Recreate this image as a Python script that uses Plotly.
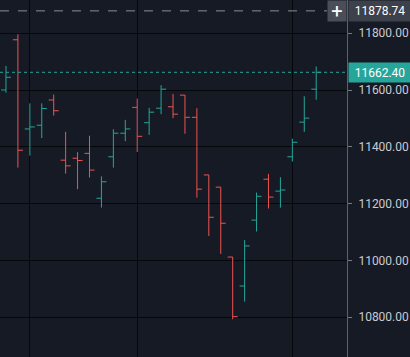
import plotly.graph_objects as go

# ---- data ----
bar_index = list(range(27))
opens  = [11600, 11777, 11463, 11476, 11565, 11353, 11360, 11377, 11219, 11365,
          11448, 11539, 11485, 11536, 11541, 11582, 11504, 11301, 11258, 11012,
          10910, 11142, 11286, 11244, 11365, 11487, 11603]
highs  = [11685, 11796, 11553, 11553, 11584, 11453, 11381, 11439, 11296, 11462,
          11495, 11570, 11537, 11617, 11586, 11582, 11536, 11301, 11258, 11012,
          11072, 11239, 11305, 11293, 11429, 11578, 11683]
lows   = [11591, 11327, 11369, 11431, 11510, 11306, 11251, 11292, 11186, 11327,
          11420, 11382, 11442, 11515, 11501, 11446, 11221, 11086, 11023, 10793,
          10855, 11102, 11183, 11186, 11348, 11453, 11566]
closes = [11645, 11388, 11470, 11535, 11527, 11333, 11352, 11318, 11277, 11448,
          11463, 11437, 11522, 11603, 11515, 11504, 11251, 11152, 11131, 10802,
          11051, 11226, 11223, 11248, 11416, 11501, 11662.40]
price_ticks = [10600, 10800, 11000, 11200, 11400, 11600, 11800]
time_grid_bars = [2, 11, 24]
last_price = 11662.40
crosshair_price = 11878.74

UP = "#26a69a"
DOWN = "#ef5350"
BG = "#161a25"
GRID = "#05070b"
TXT = "#c8cbd3"
XR = 347 / 410

fig = go.Figure(go.Ohlc(
    x=bar_index, open=opens, high=highs, low=lows, close=closes,
    increasing=dict(line=dict(color=UP, width=1)),
    decreasing=dict(line=dict(color=DOWN, width=1)),
    tickwidth=0.42, hoverinfo="skip",
))

fig.update_layout(
    width=410, height=357, margin=dict(l=0, r=0, t=0, b=0),
    paper_bgcolor=BG, plot_bgcolor=BG, showlegend=False,
    font=dict(family="Roboto", size=12, color=TXT),
    xaxis=dict(domain=[0, XR], range=[-0.5, 28.58], rangeslider=dict(visible=False),
               tickvals=time_grid_bars, showticklabels=False, showgrid=True,
               gridcolor=GRID, gridwidth=1, zeroline=False, showline=False, fixedrange=True),
    yaxis=dict(side="right", range=[10660, 11917], tickvals=price_ticks,
               tickformat=".2f", showgrid=True, gridcolor=GRID, gridwidth=1,
               zeroline=False, showline=True, linecolor="#5d606b", linewidth=1,
               ticks="outside", ticklen=4, tickcolor="#787b86",
               ticklabelstandoff=4, tickfont=dict(size=12, color=TXT)),
)

shapes = [
    dict(type="line", xref="paper", yref="y", x0=0, x1=XR, y0=last_price, y1=last_price,
         line=dict(color=UP, width=1, dash="dot")),
    dict(type="line", xref="paper", yref="y", x0=0, x1=327 / 410, y0=crosshair_price,
         y1=crosshair_price, line=dict(color="#8a8d96", width=1, dash="dash")),
]
fig.update_layout(shapes=shapes)

fig.add_annotation(xref="paper", yref="y", x=348 / 410, y=last_price, xanchor="left",
                   yanchor="middle", text=f"{last_price:.2f}", showarrow=False,
                   bgcolor=UP, width=62, height=19, borderpad=0,
                   font=dict(size=12, color="#ffffff"))
fig.add_annotation(xref="paper", yref="y", x=348 / 410, y=crosshair_price, xanchor="left",
                   yanchor="middle", text=f"{crosshair_price:.2f}", showarrow=False,
                   bgcolor="#3d414c", width=62, height=20, borderpad=0,
                   font=dict(size=12, color="#ffffff"))
fig.add_annotation(xref="paper", yref="y", x=327 / 410, y=crosshair_price, xanchor="left",
                   yanchor="middle", text="+", showarrow=False,
                   bgcolor="#4a4e58", width=18, height=20, borderpad=0,
                   font=dict(size=20, color="#ffffff"))

fig.write_html("out.html", config={"displayModeBar": False},
               post_script="document.body.style.margin='0';document.body.style.overflow='hidden';")
